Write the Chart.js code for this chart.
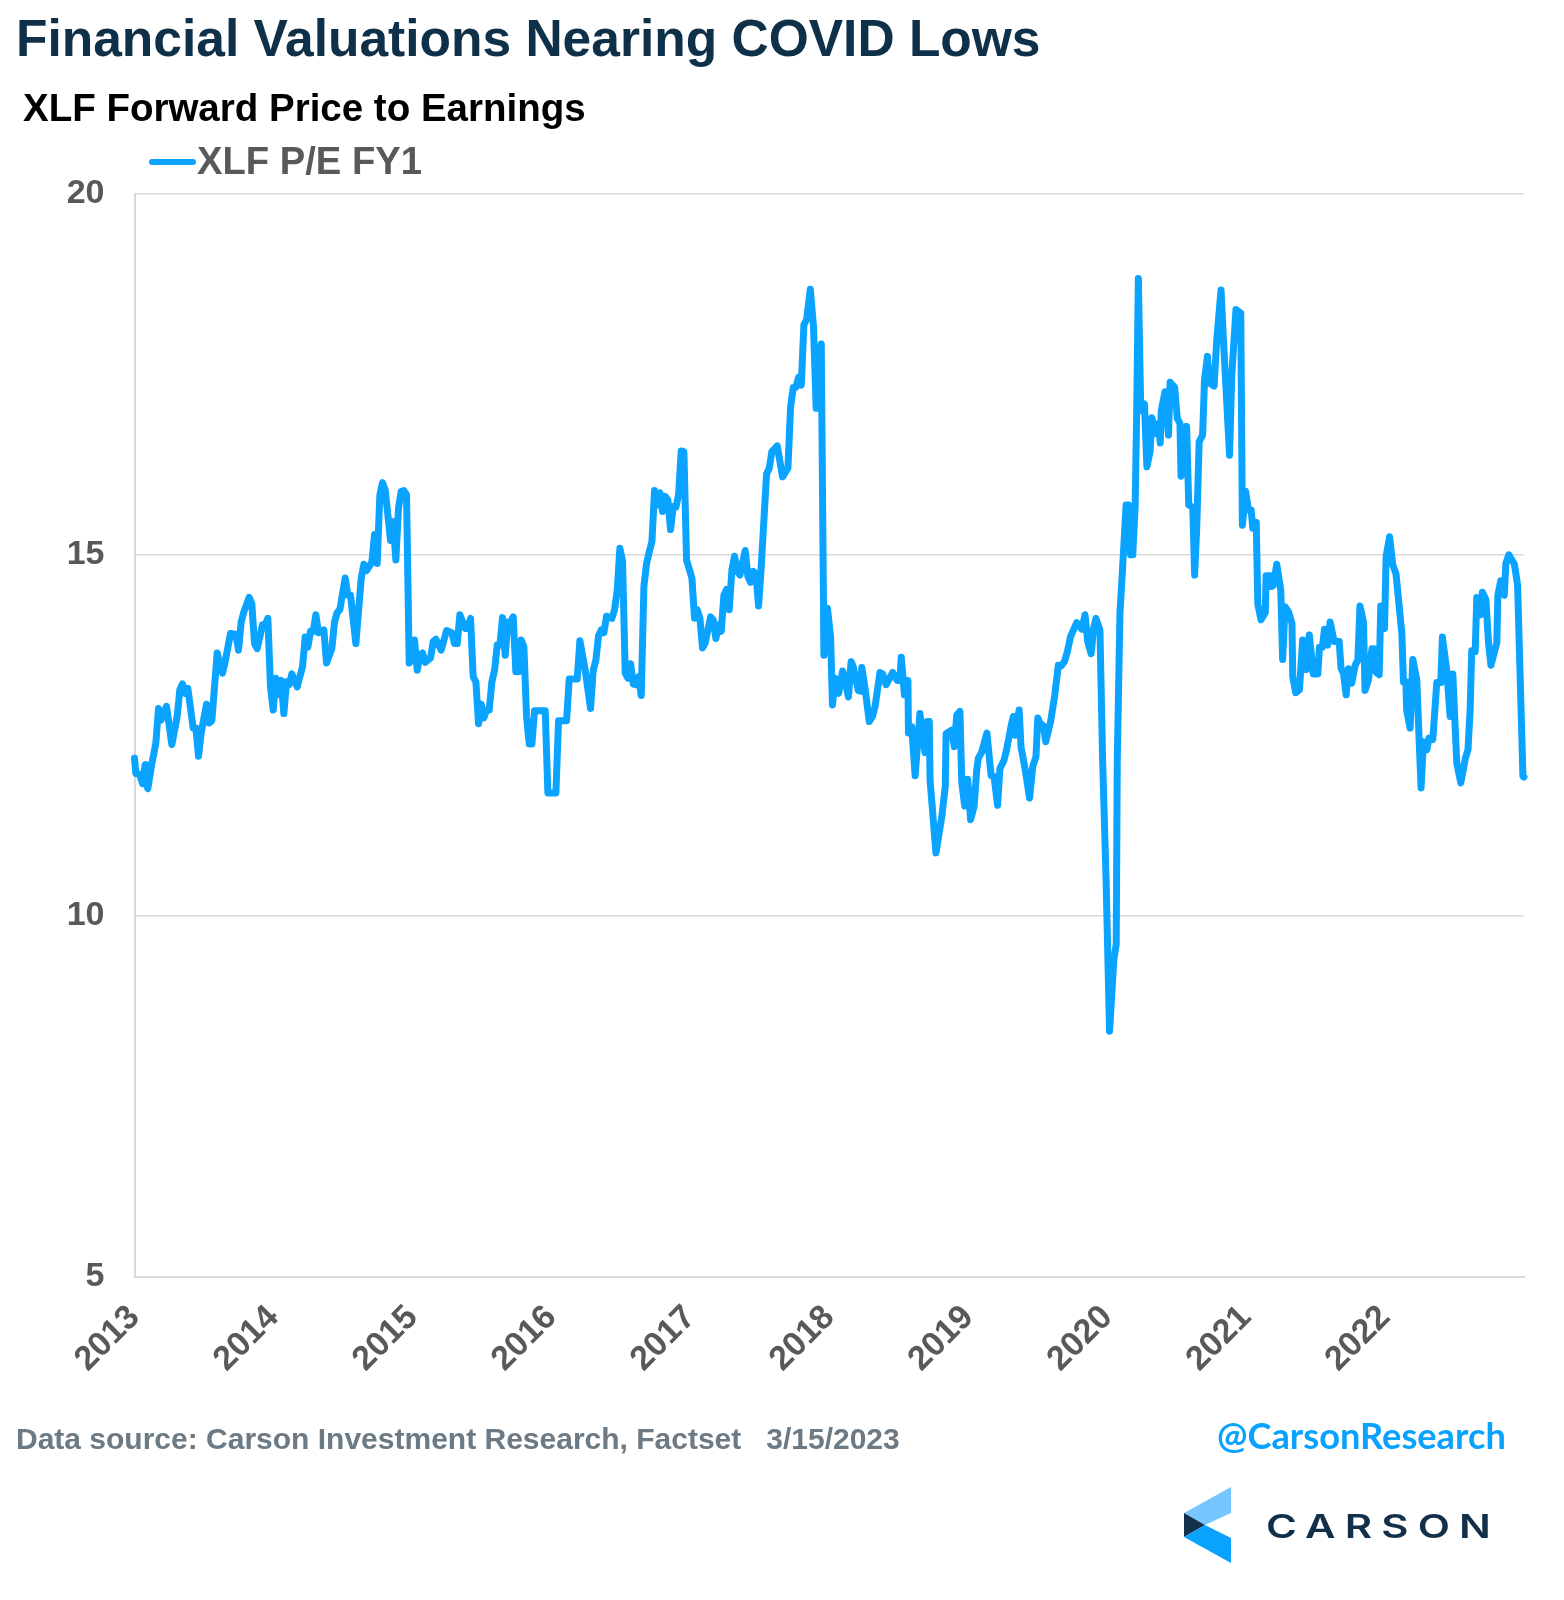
<!DOCTYPE html>
<html>
<head>
<meta charset="utf-8">
<title>Financial Valuations Nearing COVID Lows</title>
<script src="https://cdn.jsdelivr.net/npm/chart.js@4"></script>
<style>
  html, body { margin: 0; padding: 0; background: #fff; }
  #page { position: relative; width: 1564px; height: 1600px; overflow: hidden; font-family: "Liberation Sans", Arial, sans-serif; font-weight: 700; }
  #page canvas { position: absolute; left: 0; top: 0; }
  .label { position: absolute; white-space: pre; line-height: 1; }
  #title { left: 16px; top: 13px; font-size: 51.5px; color: #0f3049; }
  #subtitle { left: 23px; top: 89px; font-size: 38.5px; color: #000; }
  #legend-line { position: absolute; left: 149px; top: 159px; width: 47px; height: 6px; border-radius: 3px; }
  #legend-text { left: 197px; top: 142px; font-size: 38.2px; color: #595959; }
  #source { left: 16px; top: 1424px; font-size: 30px; color: #6b7a84; }
  #handle { left: 1217px; top: 1417px; font-size: 36.2px; color: #0aa2ff; font-family: Lato, sans-serif; }
  #logo-text { left: 1266px; top: 1511px; font-size: 32px; color: #12304a; font-family: Inter, sans-serif; font-weight: 600; letter-spacing: 7px; transform: scaleX(1.31); transform-origin: left center; }
  #logo { position: absolute; left: 0; top: 0; }
</style>
</head>
<body>
<div id="page">
  <canvas id="chart" width="1564" height="1600"></canvas>
  <div class="label" id="title">Financial Valuations Nearing COVID Lows</div>
  <div class="label" id="subtitle">XLF Forward Price to Earnings</div>
  <div id="legend-line"></div>
  <div class="label" id="legend-text"></div>
  <div class="label" id="source">Data source: Carson Investment Research, Factset   3/15/2023</div>
  <div class="label" id="handle">@CarsonResearch</div>
  <svg id="logo" width="1564" height="1600">
    <polygon points="1231,1487 1231,1513 1205,1525 1184,1513" fill="#76c6ff"/>
    <polygon points="1184,1513 1205,1525 1184,1537" fill="#12304a"/>
    <polygon points="1184,1537 1205,1525 1231,1538 1231,1563" fill="#0aa2ff"/>
  </svg>
  <div class="label" id="logo-text">CARSON</div>
</div>

<script>
const seriesLabel = 'XLF P/E FY1';
const lineColor = '#0aa3ff';
const gridColor = '#d9d9d9';
const tickColor = '#595959';
const tickYears = ['2013', '2014', '2015', '2016', '2017', '2018', '2019', '2020', '2021', '2022'];
const yTicks = [5, 10, 15, 20];
const weeksPerYear = 52.1;

// weeks since the start of 2013, only where the line changes direction
const weeks = [
  0, 0.5, 2, 3, 4, 4.3, 5, 6.5, 7, 8, 9, 10, 12, 14, 16, 17, 18, 19, 20, 22, 23, 24, 25, 27, 28, 29, 31, 33, 34, 36,
  38, 39, 40, 41, 43, 44, 45, 46, 48, 49, 50, 51, 52, 53, 54, 55, 56, 57, 58, 59, 61, 63, 64, 65, 66, 67, 68, 69, 71, 72,
  74, 75, 76, 77, 79, 80, 81, 83, 85, 86, 87, 89, 90, 91, 92, 93, 94, 96, 97, 98, 99, 100, 101, 102, 103, 104, 105, 106, 107, 108,
  109, 111, 112, 113, 115, 117, 119, 120, 121, 122, 124, 125, 126, 127, 128, 129, 130, 131, 132, 133, 134, 135, 136, 137, 138, 139, 140, 141, 142, 143,
  144, 145, 146, 147, 148, 149, 150, 154, 155, 158, 159, 162, 163, 166, 167, 169, 171, 172, 173, 174, 175, 176, 177, 179, 180, 181, 182,
  183, 184, 185, 186, 187, 188, 189, 190, 191, 192, 193, 194, 195, 196, 197, 198, 199, 200, 201, 202, 203, 204, 205, 206, 207, 209, 210, 211, 212, 213,
  214, 216, 217, 218, 219, 220, 221, 222, 223, 224, 225, 226, 227, 229, 230, 231, 232, 233, 234, 235, 237, 238, 239, 241, 243, 245, 246, 247, 248, 249,
  250, 251, 252, 253.4, 254.6, 255.6, 256.4, 257.5, 258.5, 259.8, 261, 261.7, 262.7, 264, 265.5, 266, 267.7, 268.7, 269.5, 271.4, 272.4, 272.7, 274, 275.5, 276.7, 277.7, 279.5, 280.5, 281.8, 284.3,
  286, 287, 287.5, 288.7, 290, 290.2, 291.4, 292.7, 294.5, 296.4, 297.3, 298, 298.3, 300.5, 302.7, 304, 304.3, 306.4, 307.4, 308.3, 309.5, 310.2, 311.3, 312.4, 313.5, 314.8, 315.8, 316.4, 317.7, 319.6,
  321.2, 322.3, 323.6, 324.5, 326, 327, 328.7, 329.5, 330.3, 331.7, 332.4, 334, 335.6, 336.8, 338, 338.7, 339.5, 340.8, 341.7, 343.5, 345, 346.4, 347.4, 348.7, 349.8, 351, 353.3, 355.2, 356.4, 357.4,
  358.7, 359.6, 360.5, 362, 363, 364.3, 365.6, 367.2, 368.1, 368.5, 369.5, 370.8, 371.8, 372.7, 373.5, 374.3, 375.2, 375.8, 376.4, 377.3, 378.7, 379.6, 380.8, 381.5, 382.7, 384, 384.6, 385, 386.4, 387.7,
  388.3, 390, 391, 392, 392.4, 393.7, 394.5, 395.3, 396.8, 397.5, 398.3, 399.2, 400.5, 401.2, 402.3, 403, 404.8, 405.8, 407.4, 408.3, 410.6, 411.4, 413, 414.8, 415.4, 416.6, 417.7, 418.7, 419.3, 420.6,
  421.2, 422.4, 424, 424.3, 426, 426.4, 427, 428.3, 429.8, 430.5, 431.4, 432.7, 434, 434.3, 435.4, 436.8, 438, 439.3, 440.5, 442, 443.7, 444.3, 445.4, 446.2, 447.4, 448.3, 449.8, 451.7, 452.4, 453.3,
  454.3, 455.2, 456.4, 457.7, 458.7, 459.5, 460.8, 461.4, 462.7, 464, 464.8, 465.6, 466.7, 467.3, 468.7, 469.3, 470.6, 471.8, 473, 475.2, 475.8, 476.7, 477, 478.3, 479.3, 480.8, 482.4, 483.3, 484.6, 485.4,
  486.8, 488.3, 489.8, 490.4, 492, 493.3, 494.3, 495.8, 497.3, 499, 500, 500.8, 501.4, 502.7, 503.3, 504.8, 505.4, 506.7, 507.7, 508.6, 510.8, 511.2, 512.3, 513.6, 514.2, 515.3, 517.4, 518.6, 520.6, 521
];

const peValues = [
  12.18, 11.97, 11.96, 11.83, 12.09, 11.83, 11.76, 12.11, 12.2, 12.39, 12.87, 12.71, 12.9, 12.37, 12.76, 13.13, 13.21, 13.08, 13.15, 12.6, 12.6, 12.21, 12.53, 12.93, 12.67, 12.7, 13.64, 13.36, 13.52, 13.91,
  13.9, 13.68, 14.07, 14.21, 14.41, 14.32, 13.77, 13.7, 14.03, 14.03, 14.12, 13.17, 12.85, 13.29, 13.06, 13.26, 12.8, 13.24, 13.2, 13.35, 13.17, 13.45, 13.86, 13.72, 13.94, 13.94, 14.17, 13.92, 13.96, 13.5,
  13.7, 14.07, 14.2, 14.24, 14.68, 14.44, 14.44, 13.77, 14.67, 14.87, 14.78, 14.9, 15.28, 14.88, 15.83, 16, 15.9, 15.2, 15.46, 14.93, 15.65, 15.88, 15.89, 15.83, 13.5, 13.54, 13.82, 13.4, 13.61, 13.64,
  13.51, 13.57, 13.8, 13.83, 13.68, 13.95, 13.92, 13.77, 13.77, 14.17, 13.98, 13.98, 14.12, 13.31, 13.24, 12.66, 12.93, 12.74, 12.85, 12.85, 13.24, 13.4, 13.75, 13.75, 14.13, 13.61, 14.07, 14.07, 14.14, 13.38,
  13.38, 13.82, 13.73, 12.76, 12.38, 12.38, 12.84, 12.84, 11.7, 11.7, 12.7, 12.7, 13.28, 13.28, 13.81, 13.4, 12.87, 13.4, 13.54, 13.88, 13.96, 13.92, 14.15, 14.12, 14.24, 14.51, 15.09,
  14.91, 13.36, 13.29, 13.49, 13.21, 13.2, 13.31, 13.05, 14.56, 14.88, 15.04, 15.18, 15.89, 15.69, 15.86, 15.6, 15.81, 15.76, 15.35, 15.67, 15.66, 15.83, 16.44, 16.43, 14.93, 14.68, 14.12, 14.24, 14.12, 13.71,
  13.78, 14.14, 14.1, 13.84, 14.03, 13.94, 14.44, 14.52, 14.24, 14.79, 14.98, 14.77, 14.72, 15.06, 14.7, 14.62, 14.77, 14.74, 14.29, 14.84, 16.12, 16.2, 16.43, 16.51, 16.08, 16.2, 17.05, 17.32, 17.32, 17.46,
  17.35, 18.19, 18.26, 18.68, 18.16, 17.03, 17.03, 17.92, 13.61, 14.26, 13.87, 12.92, 13.29, 13.08, 13.39, 13.33, 13.03, 13.52, 13.45, 13.12, 13.11, 13.44, 13.13, 12.69, 12.76, 12.9, 13.37, 13.35, 13.2, 13.37,
  13.26, 13.26, 13.58, 13.06, 13.26, 12.53, 12.62, 11.94, 12.8, 12.26, 12.69, 12.69, 11.88, 10.87, 11.37, 11.79, 12.52, 12.57, 12.34, 12.78, 12.83, 11.84, 11.52, 11.89, 11.33, 11.51, 12.02, 12.18, 12.27, 12.53,
  11.94, 11.93, 11.53, 12.04, 12.15, 12.3, 12.63, 12.76, 12.5, 12.85, 12.34, 12.02, 11.63, 12.07, 12.2, 12.74, 12.67, 12.63, 12.41, 12.69, 13.04, 13.47, 13.46, 13.52, 13.66, 13.87, 14.06, 13.97, 14.17, 13.8,
  13.63, 13.98, 14.12, 13.96, 12.16, 10.5, 8.4, 9.39, 9.6, 12.16, 14.19, 15.02, 15.69, 15.69, 15, 15, 15.67, 17.05, 18.83, 17, 17.09, 16.22, 16.43, 16.9, 16.68, 16.82, 16.55, 17, 17.26, 16.66,
  17.39, 17.32, 16.89, 16.82, 16.09, 16.22, 16.78, 15.69, 15.66, 14.72, 15.39, 16.57, 16.66, 17.42, 17.75, 17.38, 17.34, 17.98, 18.67, 17.98, 16.38, 17.47, 18.4, 18.35, 15.41, 15.88, 15.62, 15.62, 15.37, 15.45,
  14.31, 14.1, 14.2, 14.71, 14.71, 14.56, 14.58, 14.87, 14.51, 13.55, 14.28, 14.21, 14.05, 13.31, 13.09, 13.13, 13.82, 13.41, 13.89, 13.35, 13.35, 13.72, 13.72, 13.97, 13.75, 14.07, 13.8, 13.8, 13.43, 13.36,
  13.06, 13.42, 13.22, 13.47, 13.54, 14.29, 14.07, 13.12, 13.27, 13.7, 13.7, 13.37, 13.34, 14.29, 13.98, 14.98, 15.25, 14.86, 14.74, 13.91, 13.24, 13.24, 12.85, 12.6, 13.55, 13.27, 11.77, 12.41, 12.3, 12.46,
  12.44, 13.23, 13.23, 13.86, 13.41, 12.76, 13.35, 12.11, 11.84, 12.18, 12.3, 12.85, 13.67, 13.66, 14.41, 14.17, 14.48, 14.38, 13.78, 13.47, 13.78, 14.44, 14.64, 14.44, 14.88, 15, 14.87, 14.58, 11.93, 11.92
];

document.getElementById('legend-text').textContent = seriesLabel;
document.getElementById('legend-line').style.background = lineColor;

const points = weeks.map((w, i) => ({ x: 2013 + w / weeksPerYear, y: peValues[i] }));

new Chart(document.getElementById('chart'), {
  type: 'line',
  data: {
    datasets: [{
      label: seriesLabel,
      data: points,
      borderColor: lineColor,
      borderWidth: 7,
      borderJoinStyle: 'round',
      borderCapStyle: 'round',
      pointRadius: 0,
      tension: 0,
      clip: false
    }]
  },
  options: {
    responsive: false,
    animation: false,
    devicePixelRatio: 1,
    layout: { padding: { top: 194, right: 40, bottom: 223.5, left: 0 } },
    plugins: { legend: { display: false }, title: { display: false }, tooltip: { enabled: false } },
    scales: {
      x: {
        type: 'linear',
        min: 2013,
        max: 2023,
        afterFit: (scale) => {
          scale.height = 100;
          scale.paddingLeft = 0;
          scale.paddingRight = 0;
        },
        grid: { display: false },
        border: { display: true, color: gridColor, width: 2 },
        ticks: {
          stepSize: 1,
          autoSkip: false,
          minRotation: 45,
          maxRotation: 45,
          padding: 13,
          color: tickColor,
          font: { family: '"Liberation Sans"', size: 34, weight: 'bold' },
          callback: (value, index) => tickYears[index] || ''
        }
      },
      y: {
        min: yTicks[0],
        max: yTicks[yTicks.length - 1],
        afterFit: (scale) => { scale.width = 134.5; },
        grid: { color: gridColor, lineWidth: 1.5, drawTicks: false },
        border: { display: true, color: gridColor, width: 2 },
        ticks: {
          stepSize: 5,
          padding: 30,
          color: tickColor,
          font: { family: '"Liberation Sans"', size: 34, weight: 'bold' }
        }
      }
    }
  }
});
</script>
</body>
</html>
